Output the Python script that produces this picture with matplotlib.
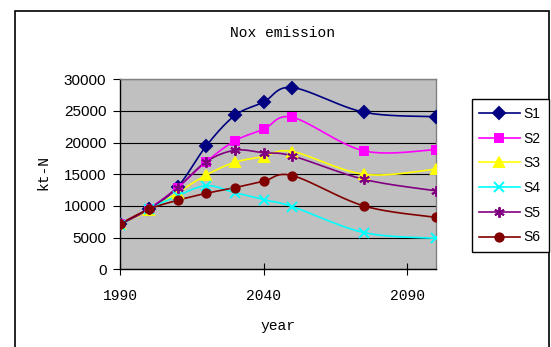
import numpy as np
import matplotlib
matplotlib.use("Agg")
import matplotlib.pyplot as plt
from matplotlib.patches import Rectangle


YEARS = [1990, 2000, 2010, 2020, 2030, 2040, 2050, 2075, 2100]

S1 = [7200, 9500, 13000, 19500, 24300, 26400, 28700, 24800, 24100]
S2 = [7200, 9600, 12900, 17000, 20300, 22100, 24000, 18700, 18900]
S3 = [7100, 9300, 12100, 14900, 16900, 17800, 18600, 15000, 15800]
S4 = [7000, 9500, 11600, 13200, 12100, 11000, 9900, 5800, 4900]
S5 = [7100, 9500, 12900, 17000, 18800, 18400, 17900, 14200, 12400]
S6 = [7200, 9500, 10900, 12000, 12900, 13900, 14800, 10000, 8200]

SERIES = ["S1", "S2", "S3", "S4", "S5", "S6"]
VALUES = [S1, S2, S3, S4, S5, S6]
COLORS = ["#000080", "#FF00FF", "#FFFF00", "#00FFFF", "#800080", "#800000"]
MARKERS = ["D", "s", "^", "x", (6, 2, 0), "o"]
MSIZES = [5.8, 5.8, 7, 6.5, 7.5, 6]

MONO = "Liberation Mono"
SANS = "Liberation Sans"


def smooth(xs, ys, steps=24):
    # Bezier segments with Catmull-Rom style control points
    x = np.asarray(xs, float)
    y = np.asarray(ys, float)
    px = np.concatenate([[x[0]], x, [x[-1]]])
    py = np.concatenate([[y[0]], y, [y[-1]]])
    out_x, out_y = [], []
    t = np.linspace(0, 1, steps)
    for i in range(1, len(px) - 2):
        p0 = np.array([px[i], py[i]])
        p3 = np.array([px[i + 1], py[i + 1]])
        c1 = p0 + (np.array([px[i + 1], py[i + 1]]) - np.array([px[i - 1], py[i - 1]])) / 6.0
        c2 = p3 - (np.array([px[i + 2], py[i + 2]]) - np.array([px[i], py[i]])) / 6.0
        b = ((1 - t) ** 3)[:, None] * p0 + (3 * (1 - t) ** 2 * t)[:, None] * c1 \
            + (3 * (1 - t) * t ** 2)[:, None] * c2 + (t ** 3)[:, None] * p3
        out_x.extend(b[:, 0])
        out_y.extend(b[:, 1])
    return out_x, out_y


W, H = 551, 347
fig = plt.figure(figsize=(W / 100, H / 100), dpi=100)
fig.patch.set_facecolor("white")

ax = fig.add_axes([120.3 / W, 1 - 269.3 / H, 315.4 / W, 190 / H])
ax.set_facecolor("#C0C0C0")

handles = []
for name, vals, col, mk, ms in zip(SERIES, VALUES, COLORS, MARKERS, MSIZES):
    sx, sy = smooth(YEARS, vals)
    ax.plot(sx, sy, color=col, lw=1.2, zorder=3)
    ax.plot(YEARS, vals, linestyle="none", marker=mk, markersize=ms,
            color=col, markeredgecolor=col, markeredgewidth=1.4, zorder=4)
    proxy, = ax.plot([], [], color=col, lw=1.2, marker=mk, markersize=ms,
                     markeredgecolor=col, markeredgewidth=1.4, label=name)
    handles.append(proxy)

ax.set_xlim(1990, 2100)
ax.set_ylim(0, 30000)
ax.set_xticks([1990, 2040, 2090])
ax.set_yticks(range(0, 30001, 5000))
ax.yaxis.grid(True, color="black", lw=0.8)
ax.set_axisbelow(True)

for side in ("top", "right"):
    ax.spines[side].set_color("#808080")
    ax.spines[side].set_linewidth(1.0)
for side in ("left", "bottom"):
    ax.spines[side].set_color("black")
    ax.spines[side].set_linewidth(1.0)

ax.tick_params(axis="y", direction="out", length=5, width=0.8, pad=5,
               labelsize=11, colors="black")
ax.tick_params(axis="x", direction="inout", length=9, width=0.8, pad=9.5,
               labelsize=10.5, colors="black")
for lab in ax.get_yticklabels():
    lab.set_fontfamily(SANS)
for lab in ax.get_xticklabels():
    lab.set_fontfamily(MONO)

fig.text(283 / W, 1 - 33.4 / H, "Nox emission", family=MONO, fontsize=10.5,
         ha="center", va="center")
fig.text(278 / W, 1 - 325.7 / H, "year", family=MONO, fontsize=10.5,
         ha="center", va="center")
fig.text(43 / W, 1 - 173 / H, "kt-N", family=MONO, fontsize=10.5,
         ha="center", va="center", rotation=90)

leg = fig.legend(handles=handles, loc="upper left",
                 bbox_to_anchor=(471.7 / W, 1 - 99.3 / H),
                 bbox_transform=fig.transFigure, borderaxespad=0,
                 prop={"family": SANS, "size": 10}, numpoints=1,
                 handlelength=2.9, handletextpad=0.3, labelspacing=0.77,
                 borderpad=0.55, fancybox=False, framealpha=1)
leg.get_frame().set_edgecolor("black")
leg.get_frame().set_linewidth(1.0)

fig.patches.append(Rectangle((15 / W, -0.05), (549.3 - 15) / W, 1.05 - 11 / H,
                             transform=fig.transFigure, fill=False,
                             edgecolor="black", lw=1.2))

fig.savefig("out.png", dpi=100)
